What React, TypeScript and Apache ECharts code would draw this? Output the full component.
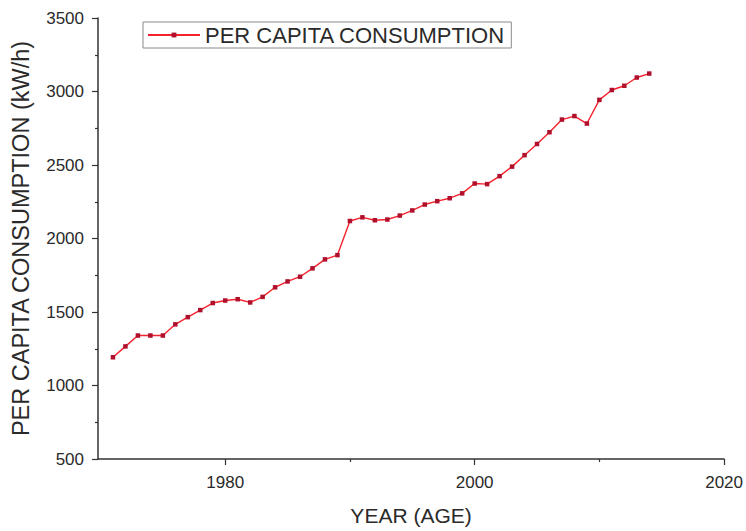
import React, { useEffect, useRef } from "react";
import * as echarts from "echarts";

// Annual per-capita electricity consumption, 1971–2014
const years: number[] = [
  1971, 1972, 1973, 1974, 1975, 1976, 1977, 1978, 1979, 1980, 1981,
  1982, 1983, 1984, 1985, 1986, 1987, 1988, 1989, 1990, 1991, 1992,
  1993, 1994, 1995, 1996, 1997, 1998, 1999, 2000, 2001, 2002, 2003,
  2004, 2005, 2006, 2007, 2008, 2009, 2010, 2011, 2012, 2013, 2014,
];
const consumption: number[] = [
  1192, 1266, 1340, 1340, 1340, 1416, 1465, 1513, 1561, 1578, 1587,
  1565, 1603, 1668, 1708, 1740, 1797, 1858, 1887, 2119, 2144, 2124,
  2129, 2156, 2191, 2231, 2254, 2274, 2307, 2374, 2370, 2424, 2489,
  2567, 2643, 2723, 2809, 2833, 2782, 2943, 3010, 3039, 3095, 3122,
];
const xMajorTicks: number[] = [1980, 2000, 2020];
const xMinorTicks: number[] = [1990, 2010];
const seriesName = "PER CAPITA CONSUMPTION";

const FONT = "'Liberation Sans', Arial, sans-serif";
const INK = "#2a2a2a";
const plain = (v: number) => String(Math.round(v));

export default function App() {
  const ref = useRef<HTMLDivElement>(null);

  useEffect(() => {
    if (!ref.current) return;
    const chart = echarts.init(ref.current, null, { renderer: "svg" });
    const xMin = 1969.8;
    const xMax = 2020;
    chart.setOption({
      animation: false,
      backgroundColor: "#ffffff",
      textStyle: { fontFamily: FONT },
      grid: { left: 98, right: 19, top: 18, bottom: 62, containLabel: false },
      legend: {
        show: true,
        left: 143,
        top: 22,
        orient: "horizontal",
        padding: [2, 6, 2, 4],
        borderColor: "#8a8a8a",
        borderWidth: 1,
        itemWidth: 52,
        itemHeight: 6,
        textStyle: { fontFamily: FONT, fontSize: 22, color: INK },
        data: [{ name: seriesName }],
      },
      xAxis: [
        {
          type: "value",
          position: "bottom",
          min: xMin,
          max: xMax,
          name: "YEAR (AGE)",
          nameLocation: "middle",
          nameGap: 46,
          nameTextStyle: { fontFamily: FONT, fontSize: 21, color: INK },
          axisLine: { show: true, lineStyle: { color: "#333", width: 1.5 } },
          axisTick: {
            show: true,
            length: 6,
            lineStyle: { color: "#333", width: 1.2 },
            customValues: xMajorTicks,
          },
          axisLabel: {
            show: true,
            fontSize: 17,
            color: INK,
            margin: 15,
            formatter: plain,
            customValues: xMajorTicks,
          },
          splitLine: { show: false },
        },
        {
          type: "value",
          position: "bottom",
          offset: 0,
          min: xMin,
          max: xMax,
          axisLine: { show: false },
          axisTick: {
            show: true,
            length: 3,
            lineStyle: { color: "#333", width: 1.2 },
            customValues: xMinorTicks,
          },
          axisLabel: { show: false },
          splitLine: { show: false },
        },
      ],
      yAxis: {
        type: "value",
        min: 500,
        max: 3500,
        interval: 500,
        name: "PER CAPITA CONSUMPTION (kW/h)",
        nameLocation: "middle",
        nameGap: 65,
        nameTextStyle: { fontFamily: FONT, fontSize: 23.5, color: INK },
        axisLine: { show: true, lineStyle: { color: "#333", width: 1.5 } },
        axisTick: { show: true, length: 6, lineStyle: { color: "#333", width: 1.2 } },
        minorTick: { show: true, splitNumber: 2, length: 3, lineStyle: { color: "#333", width: 1.2 } },
        axisLabel: { fontSize: 17, color: INK, margin: 14, formatter: plain },
        splitLine: { show: false },
      },
      series: [
        {
          name: seriesName,
          type: "line",
          xAxisIndex: 0,
          data: years.map((y, i) => [y, consumption[i]]),
          symbol: "rect",
          symbolSize: 4.5,
          showSymbol: true,
          lineStyle: { color: "#f5222d", width: 1.4 },
          itemStyle: { color: "#b0102c" },
          emphasis: { disabled: true },
        },
      ],
    });
    return () => chart.dispose();
  }, []);

  return (
    <div
      ref={ref}
      style={{ position: "fixed", left: 0, top: 0, width: 746, height: 531 }}
    />
  );
}
